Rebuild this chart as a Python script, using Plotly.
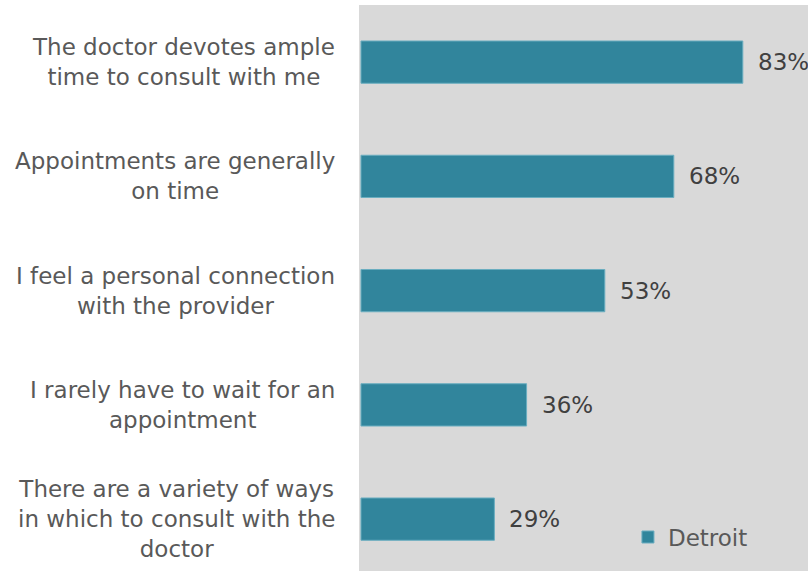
import plotly.graph_objects as go

categories = [
    "The doctor devotes ample<br>time to consult with me",
    "Appointments are generally<br>on time",
    "I feel a personal connection<br>with the provider",
    "I rarely have to wait for an<br>appointment",
    "There are a variety of ways<br>in which to consult with the<br>doctor",
]
values = [83, 68, 53, 36, 29]
series_name = "Detroit"

bar_color = "#31859C"
text_color = "#404040"
label_color = "#595959"
font_family = "DejaVu Sans, Liberation Sans, Arial, sans-serif"
font_size = 23

fig = go.Figure()
fig.add_trace(go.Bar(
    y=list(range(len(categories))),
    x=values,
    orientation="h",
    name=series_name,
    marker=dict(color=bar_color, line=dict(color="#6AAEC0", width=1)),
    width=0.37,
    showlegend=True,
))

# value labels to the right of each bar
for i, v in enumerate(values):
    fig.add_annotation(
        x=v, y=i, xref="x", yref="y",
        text=f"{v}%", showarrow=False,
        xanchor="left", yanchor="middle", xshift=13,
        font=dict(size=font_size, color=text_color, family=font_family),
    )

# category labels, lines centred, block placed left of the plot area
for i, cat in enumerate(categories):
    fig.add_annotation(
        x=0, y=i, xref="paper", yref="y",
        text=cat, showarrow=False, align="center",
        xanchor="right", yanchor="middle", xshift=-22,
        font=dict(size=font_size, color=label_color, family=font_family),
    )

fig.update_layout(
    width=808, height=571,
    margin=dict(l=359, r=0, t=5, b=0),
    paper_bgcolor="white",
    plot_bgcolor="#D9D9D9",
    xaxis=dict(range=[-0.43, 97.17], showgrid=False, zeroline=False,
               showticklabels=False, ticks=""),
    yaxis=dict(range=[4.454, -0.5], showgrid=False, zeroline=False,
               showticklabels=False, ticks=""),
    legend=dict(x=0.599, y=0.06, xanchor="left", yanchor="middle",
                bgcolor="rgba(0,0,0,0)",
                font=dict(size=font_size, color=label_color, family=font_family)),
)

fig.write_html("out.html")
